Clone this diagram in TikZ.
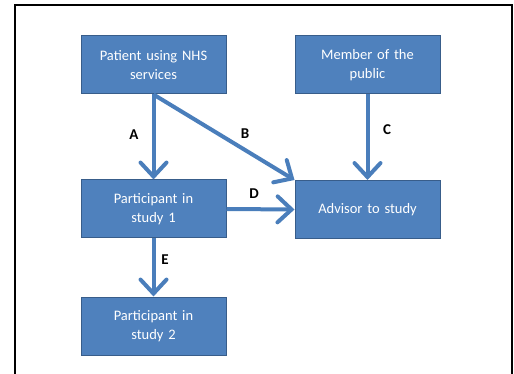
\documentclass[tikz,border=0pt]{standalone}
\usepackage{fontspec}
\setmainfont{Carlito}
\usetikzlibrary{arrows.meta, positioning}
\definecolor{boxfill}{HTML}{4F81BD}
\definecolor{boxline}{HTML}{385D8A}
\definecolor{flow}{HTML}{4A7EBB}

\tikzset{
  rolebox/.style={draw=boxline, line width=1pt, fill=boxfill, text=white,
    minimum width=145pt, minimum height=58pt, inner sep=2pt, align=center,
    text width=140pt, font=\fontsize{14.5}{19.5}\selectfont},
  flowarrow/.style={draw=flow, line width=4pt,
    -{Straight Barb[length=14pt, width=26pt, line cap=round]}},
  lbl/.style={font=\fontsize{15}{18}\selectfont\bfseries, text=black, inner sep=0pt}
}

\begin{document}
\begin{tikzpicture}[x=1pt, y=-1pt]
    \useasboundingbox (0,0) rectangle (514,374);
    \draw[black, line width=1.5pt] (15,5) rectangle (512,380);
    % the five roles
    \node[rolebox] (patient) at (153.5,65)  {Patient using NHS\\ services};
    \node[rolebox] (public)  at (367.5,65)  {Member of the\\ public};
    \node[rolebox] (part1)   at (153.5,209) {Participant in\\ study 1};
    \node[rolebox] (advisor) at (367.5,209.5) {Advisor to study};
    \node[rolebox] (part2)   at (153.5,326) {Participant in\\ study 2};
    % routes between them
    \draw[flowarrow] (patient.south) -- (part1.north);
    \draw[flowarrow] (patient.south) -- (advisor.north west);
    \draw[flowarrow] (public.south) -- (advisor.north);
    \draw[flowarrow] (part1.east) -- (advisor.west);
    \draw[flowarrow] (part1.south) -- (part2.north);
    \node[lbl] (labA) at (134,135) {A};
    \node[lbl] (labB) at (245,134) {B};
    \node[lbl] (labC) at (387,130) {C};
    \node[lbl] (labD) at (254,194) {D};
    \node[lbl] (labE) at (165,260) {E};
  \end{tikzpicture}
\end{document}
